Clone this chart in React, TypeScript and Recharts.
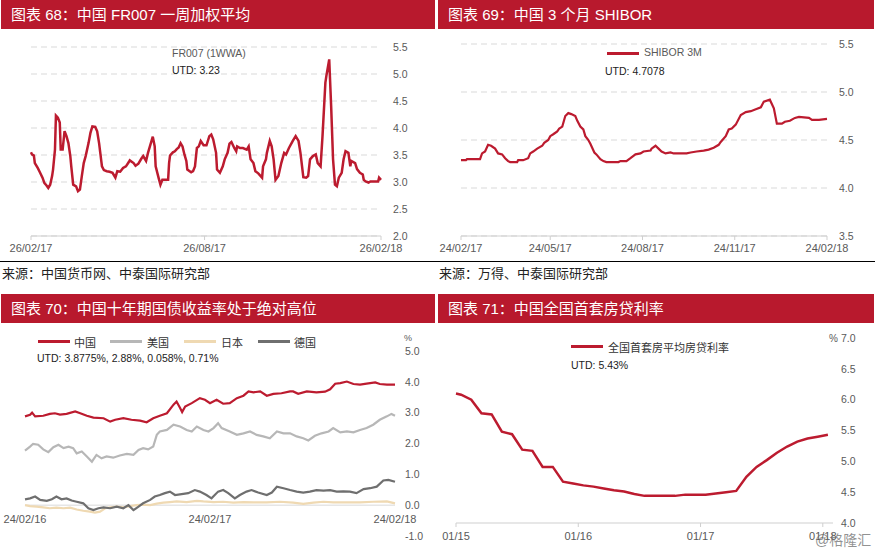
import React from 'react'
import { LineChart, Line, XAxis, YAxis, CartesianGrid, ReferenceLine } from 'recharts'

// colours
const RED = '#BC1B2F'
const HEADER_RED = '#B8192D'
const GRID = '#D9D9D9'
const AXIS_TEXT = '#595959'
const US_GRAY = '#B7B7B7'
const DE_GRAY = '#6F6F6F'
const JP_BEIGE = '#EFD9B2'
const FONT = '"Liberation Sans", Arial, "Noto Sans CJK SC", sans-serif'

// chart 68: FR007, days since 26/02/17
const fr007Days = [0, 1, 3, 4, 7, 9, 12, 14, 16, 18, 20, 22, 23, 25, 26, 28, 30, 31, 33, 35, 37, 39, 41, 42, 44, 47, 49, 51, 53, 55, 57, 60, 62, 64, 67, 69, 71, 74, 76, 79, 82, 85, 88, 90, 93, 96, 99, 102, 103, 107, 109, 112, 115, 117, 120, 122, 125, 127, 129, 130, 133, 135, 137, 141, 143, 144, 145, 148, 150, 152, 154, 156, 158, 160, 162, 163, 167, 169, 171, 173, 175, 177, 180, 183, 186, 188, 190, 193, 194, 197, 200, 202, 205, 207, 209, 212, 214, 215, 218, 221, 225, 227, 229, 232, 234, 237, 241, 242, 245, 246, 249, 251, 253, 255, 258, 261, 264, 266, 269, 273, 276, 279, 281, 284, 287, 289, 291, 294, 297, 299, 302, 304, 307, 308, 311, 313, 315, 317, 319, 321, 324, 326, 328, 331, 333, 334, 338, 340, 343, 346, 347, 349, 352, 354, 359, 362, 363, 365]
const fr007Values = [3.55, 3.51, 3.49, 3.35, 3.26, 3.19, 3.08, 2.98, 2.94, 2.89, 2.95, 3.11, 3.23, 3.6, 4.23, 4.19, 4.1, 3.6, 3.6, 3.94, 3.85, 3.72, 3.48, 3.29, 2.95, 2.92, 2.83, 2.86, 3.11, 3.35, 3.48, 3.72, 3.91, 4.03, 4.02, 3.94, 3.72, 3.29, 3.22, 3.2, 3.19, 3.17, 3.08, 3.2, 3.19, 3.26, 3.29, 3.37, 3.4, 3.35, 3.3, 3.34, 3.43, 3.48, 3.39, 3.54, 3.72, 3.84, 3.66, 3.29, 3.08, 2.95, 3.04, 3.04, 3.04, 3.35, 3.49, 3.55, 3.57, 3.61, 3.64, 3.72, 3.66, 3.51, 3.39, 3.23, 3.18, 3.2, 3.29, 3.63, 3.66, 3.76, 3.68, 3.68, 3.85, 3.88, 3.79, 3.54, 3.23, 3.17, 3.29, 3.42, 3.54, 3.71, 3.74, 3.63, 3.57, 3.66, 3.63, 3.63, 3.6, 3.66, 3.42, 3.35, 3.2, 3.16, 3.08, 3.29, 3.42, 3.54, 3.76, 3.66, 3.42, 3.04, 3.11, 3.35, 3.54, 3.51, 3.63, 3.76, 3.85, 3.76, 3.54, 3.09, 3.08, 3.11, 3.42, 3.48, 3.51, 3.35, 3.29, 3.85, 4.84, 4.96, 5.27, 4.41, 3.42, 2.95, 2.92, 3.08, 3.17, 3.42, 3.57, 3.54, 3.29, 3.39, 3.35, 3.24, 3.17, 3.14, 3.04, 3.01, 2.99, 3.01, 3.01, 3.01, 3.08, 3.04]
const fr007Ticks = [0, 181, 365]
const fr007TickLabels = ['26/02/17', '26/08/17', '26/02/18']
const fr007YTicks = [2, 2.5, 3, 3.5, 4, 4.5, 5, 5.5]

// chart 69: SHIBOR 3M, days since 24/02/17
const shiborDays = [0, 5, 6, 19, 21, 24, 27, 30, 34, 37, 41, 44, 47, 49, 56, 57, 62, 67, 69, 72, 76, 81, 83, 87, 89, 92, 96, 98, 101, 104, 107, 110, 114, 116, 119, 122, 124, 127, 129, 133, 135, 139, 142, 145, 157, 159, 165, 169, 174, 179, 182, 189, 190, 194, 197, 200, 204, 209, 212, 219, 225, 229, 235, 242, 247, 252, 257, 259, 264, 267, 270, 274, 279, 284, 289, 294, 299, 302, 308, 312, 315, 320, 323, 328, 333, 337, 347, 350, 357, 365]
const shiborValues = [4.29, 4.29, 4.3, 4.3, 4.36, 4.38, 4.45, 4.44, 4.41, 4.36, 4.35, 4.31, 4.28, 4.27, 4.27, 4.29, 4.29, 4.31, 4.36, 4.38, 4.41, 4.44, 4.47, 4.5, 4.54, 4.56, 4.59, 4.62, 4.64, 4.75, 4.78, 4.77, 4.75, 4.7, 4.64, 4.61, 4.54, 4.5, 4.46, 4.37, 4.35, 4.3, 4.28, 4.27, 4.27, 4.28, 4.28, 4.31, 4.35, 4.36, 4.38, 4.39, 4.41, 4.44, 4.41, 4.38, 4.36, 4.37, 4.36, 4.36, 4.36, 4.37, 4.38, 4.39, 4.4, 4.42, 4.45, 4.48, 4.54, 4.61, 4.62, 4.66, 4.76, 4.79, 4.8, 4.82, 4.84, 4.9, 4.92, 4.83, 4.67, 4.67, 4.69, 4.7, 4.73, 4.74, 4.73, 4.71, 4.71, 4.72]
const shiborTicks = [0, 89, 181, 273, 365]
const shiborTickLabels = ['24/02/17', '24/05/17', '24/08/17', '24/11/17', '24/02/18']
const shiborYTicks = [3.5, 4, 4.5, 5, 5.5]

// chart 70: 10y government bond yields, days since 24/02/16
const cnDays = [0, 10, 14, 20, 36, 49, 59, 69, 82, 99, 109, 122, 135, 155, 168, 178, 194, 210, 227, 240, 253, 266, 280, 293, 299, 306, 310, 316, 329, 345, 355, 365, 378, 391, 404, 418, 431, 441, 451, 464, 477, 490, 506, 523, 529, 539, 556, 575, 592, 602, 612, 622, 635, 648, 661, 674, 691, 700, 714, 730]
const cnValues = [2.88, 2.93, 3.0, 2.88, 2.9, 2.96, 2.98, 2.94, 2.96, 3.04, 2.98, 2.9, 2.84, 2.82, 2.71, 2.77, 2.82, 2.77, 2.74, 2.69, 2.82, 2.9, 2.98, 3.26, 3.36, 3.15, 3.02, 3.2, 3.31, 3.47, 3.42, 3.31, 3.42, 3.29, 3.31, 3.47, 3.55, 3.69, 3.66, 3.69, 3.55, 3.61, 3.63, 3.69, 3.69, 3.61, 3.69, 3.66, 3.68, 3.76, 3.94, 3.96, 4.01, 3.93, 3.91, 3.94, 3.98, 3.93, 3.91, 3.91]
const usDays = [0, 10, 16, 26, 36, 46, 56, 66, 76, 86, 95, 102, 112, 122, 132, 141, 151, 161, 174, 187, 201, 214, 224, 233, 243, 253, 260, 266, 280, 293, 306, 319, 329, 339, 352, 362, 372, 381, 388, 404, 418, 431, 444, 457, 470, 483, 497, 510, 523, 536, 549, 559, 572, 585, 599, 608, 622, 635, 648, 661, 674, 687, 700, 714, 723, 730]
const usValues = [1.77, 1.9, 1.99, 1.96, 1.81, 1.72, 1.88, 1.96, 1.85, 1.9, 1.85, 1.68, 1.74, 1.58, 1.41, 1.63, 1.52, 1.58, 1.54, 1.61, 1.66, 1.63, 1.79, 1.85, 1.81, 1.9, 2.28, 2.39, 2.44, 2.61, 2.55, 2.44, 2.39, 2.55, 2.44, 2.39, 2.5, 2.66, 2.5, 2.39, 2.28, 2.33, 2.39, 2.28, 2.23, 2.17, 2.39, 2.33, 2.33, 2.23, 2.17, 2.1, 2.25, 2.33, 2.39, 2.5, 2.36, 2.39, 2.36, 2.44, 2.5, 2.61, 2.77, 2.88, 2.96, 2.9]
const jpDays = [0, 10, 23, 36, 49, 62, 76, 89, 102, 115, 128, 138, 148, 158, 168, 181, 194, 207, 220, 233, 247, 260, 273, 286, 299, 319, 339, 352, 372, 391, 411, 431, 451, 477, 503, 529, 549, 569, 589, 608, 635, 661, 687, 714, 730]
const jpValues = [0.0, -0.03, -0.05, -0.07, -0.1, -0.08, -0.1, -0.08, -0.14, -0.18, -0.21, -0.24, -0.21, -0.1, -0.07, -0.05, -0.07, -0.03, 0.0, 0.02, 0.0, 0.05, 0.08, 0.1, 0.12, 0.1, 0.14, 0.12, 0.1, 0.11, 0.08, 0.1, 0.09, 0.09, 0.11, 0.08, 0.04, 0.08, 0.11, 0.09, 0.09, 0.09, 0.11, 0.12, 0.06]
const deDays = [0, 10, 20, 30, 43, 53, 62, 72, 82, 92, 102, 115, 125, 135, 145, 155, 168, 181, 194, 204, 214, 224, 233, 247, 256, 266, 276, 286, 296, 309, 322, 335, 345, 358, 368, 381, 391, 401, 414, 424, 437, 447, 460, 477, 487, 497, 510, 523, 536, 549, 562, 575, 589, 602, 615, 628, 641, 654, 668, 681, 694, 707, 717, 730]
const deValues = [0.19, 0.22, 0.28, 0.17, 0.14, 0.19, 0.28, 0.19, 0.22, 0.15, 0.11, 0.06, -0.1, -0.16, -0.1, -0.07, -0.1, -0.05, -0.1, 0.0, -0.16, -0.05, 0.06, 0.17, 0.28, 0.33, 0.39, 0.44, 0.33, 0.36, 0.39, 0.49, 0.44, 0.33, 0.22, 0.44, 0.49, 0.39, 0.22, 0.33, 0.44, 0.49, 0.41, 0.33, 0.41, 0.6, 0.55, 0.49, 0.44, 0.41, 0.44, 0.49, 0.47, 0.49, 0.44, 0.45, 0.44, 0.39, 0.52, 0.55, 0.6, 0.8, 0.82, 0.76]
const bondTicks = [0, 365, 730]
const bondTickLabels = ['24/02/16', '24/02/17', '24/02/18']
const bondYTicks = [-1, 0, 1, 2, 3, 4, 5]

// chart 71: first-home mortgage rate, months since 01/15
const mortMonths = [0, 0.5, 1.5, 2.5, 3.5, 4.5, 5.5, 6.5, 7.5, 8.5, 9.5, 10.5, 11.5, 12.5, 13.5, 14.5, 15.5, 16.5, 17.5, 18.5, 19.5, 20.5, 21.5, 22.5, 23.5, 24.5, 25.5, 26.5, 27.5, 28.5, 29.5, 30.5, 31.5, 32.5, 33.5, 34.5, 35.5, 36.5]
const mortValues = [6.1, 6.08, 6.0, 5.78, 5.76, 5.48, 5.44, 5.19, 5.17, 4.91, 4.91, 4.67, 4.64, 4.61, 4.59, 4.56, 4.53, 4.51, 4.47, 4.44, 4.44, 4.44, 4.44, 4.46, 4.46, 4.46, 4.48, 4.5, 4.52, 4.75, 4.91, 5.02, 5.14, 5.24, 5.32, 5.37, 5.4, 5.43]
const mortTicks = [0, 12, 24, 36]
const mortTickLabels = ['01/15', '01/16', '01/17', '01/18']
const mortYTicks = [4, 4.5, 5, 5.5, 6, 6.5, 7]

const pairs = (xs: number[], ys: number[]) => xs.map((d, i) => ({ d, v: ys[i] }))
const labelOf = (ticks: number[], labels: string[]) => (v: number) => labels[ticks.indexOf(v)] ?? ''
const one = (v: number) => v.toFixed(1)

const abs = (left: number, top: number, extra: React.CSSProperties = {}): React.CSSProperties => ({
  position: 'absolute', left, top, whiteSpace: 'nowrap', fontFamily: FONT, ...extra,
})

function Header({ left, top, width, text }: { left: number; top: number; width: number; text: string }) {
  return (
    <div style={abs(left, top, { width, height: 29, background: HEADER_RED, color: '#fff', fontSize: 15, lineHeight: '30px', paddingLeft: 10, boxSizing: 'border-box' })}>
      {text}
    </div>
  )
}

function LegendLine({ left, top, color }: { left: number; top: number; color: string }) {
  return <div style={abs(left, top, { width: 32, height: 3, background: color })} />
}

const axisTick = { fill: AXIS_TEXT, fontSize: 11, fontFamily: FONT }

// bond chart's dates sit just under the zero line, inside the plot
function LiftedTick(props: any) {
  const { x, y, payload } = props
  return (
    <text x={x} y={y - 13} textAnchor="middle" fill={AXIS_TEXT} fontSize={11} fontFamily={FONT}>
      {labelOf(bondTicks, bondTickLabels)(payload.value)}
    </text>
  )
}

export default function App() {
  return (
    <div style={{ position: 'absolute', left: 0, top: 0, width: 875, height: 551, background: '#fff', overflow: 'hidden', fontFamily: FONT }}>
      {/* chart 68 */}
      <Header left={1} top={0} width={434} text="图表 68：中国 FR007 一周加权平均" />
      <div style={abs(0, 30)}>
        <LineChart width={437} height={230} margin={{ top: 17, left: 31, right: 16, bottom: 4 }}>
          <CartesianGrid vertical={false} stroke={GRID} strokeDasharray="6 4" />
          <XAxis type="number" dataKey="d" domain={[0, 365]} ticks={fr007Ticks} tickFormatter={labelOf(fr007Ticks, fr007TickLabels)}
            height={20} stroke="#CFCFCF" tickSize={4} tickMargin={4} tick={axisTick} interval={0} />
          <YAxis orientation="right" domain={[2, 5.5]} ticks={fr007YTicks} tickFormatter={one} width={40}
            axisLine={false} tickLine={false} tickMargin={6} tick={{ ...axisTick, fontSize: 10.5 }} />
          <Line data={pairs(fr007Days, fr007Values)} dataKey="v" stroke={RED} strokeWidth={2.5} dot={false} isAnimationActive={false} />
        </LineChart>
      </div>
      <div style={abs(172, 47, { fontSize: 10.5, color: AXIS_TEXT })}>FR007 (1WWA)</div>
      <div style={abs(172, 64, { fontSize: 10.5, color: '#222' })}>UTD: 3.23</div>
      <div style={abs(0, 261, { width: 437, height: 1, background: '#000' })} />
      <div style={abs(2, 263, { fontSize: 13, color: '#222' })}>来源：中国货币网、中泰国际研究部</div>

      {/* chart 69 */}
      <Header left={438} top={0} width={436} text="图表 69：中国 3 个月 SHIBOR" />
      <div style={abs(437, 30)}>
        <LineChart width={438} height={230} margin={{ top: 14, left: 24, right: 8, bottom: 4 }}>
          <CartesianGrid vertical={false} stroke={GRID} strokeDasharray="6 4" />
          <XAxis type="number" dataKey="d" domain={[0, 365]} ticks={shiborTicks} tickFormatter={labelOf(shiborTicks, shiborTickLabels)}
            height={20} stroke="#CFCFCF" tickSize={4} tickMargin={4} tick={axisTick} interval={0} />
          <YAxis orientation="right" domain={[3.5, 5.5]} ticks={shiborYTicks} tickFormatter={one} width={40}
            axisLine={false} tickLine={false} tickMargin={6} tick={{ ...axisTick, fontSize: 10.5 }} />
          <Line data={pairs(shiborDays, shiborValues)} dataKey="v" stroke={RED} strokeWidth={2.2} dot={false} isAnimationActive={false} />
        </LineChart>
      </div>
      <LegendLine left={607} top={52} color={RED} />
      <div style={abs(644, 46, { fontSize: 10.5, color: AXIS_TEXT })}>SHIBOR 3M</div>
      <div style={abs(605, 65, { fontSize: 10.5, color: '#222' })}>UTD: 4.7078</div>
      <div style={abs(437, 261, { width: 438, height: 1, background: '#000' })} />
      <div style={abs(439, 263, { fontSize: 13, color: '#222' })}>来源：万得、中泰国际研究部</div>

      {/* chart 70 */}
      <Header left={1} top={294} width={434} text="图表 70：中国十年期国债收益率处于绝对高位" />
      <div style={abs(0, 325)}>
        <LineChart width={437} height={226} margin={{ top: 26, left: 25, right: 8, bottom: 0 }}>
          <XAxis type="number" dataKey="d" domain={[0, 730]} ticks={bondTicks} height={15}
            axisLine={false} tickLine={false} tickSize={0} tickMargin={0} tick={<LiftedTick />} interval={0} />
          <YAxis orientation="right" domain={[-1, 5]} ticks={bondYTicks} tickFormatter={one} width={34}
            axisLine={false} tickLine={false} tickMargin={4} tick={{ ...axisTick, fontSize: 10.5 }} />
          <ReferenceLine y={0} stroke={GRID} strokeWidth={1} />
          <Line data={pairs(jpDays, jpValues)} dataKey="v" stroke={JP_BEIGE} strokeWidth={2.2} dot={false} isAnimationActive={false} />
          <Line data={pairs(deDays, deValues)} dataKey="v" stroke={DE_GRAY} strokeWidth={2.2} dot={false} isAnimationActive={false} />
          <Line data={pairs(usDays, usValues)} dataKey="v" stroke={US_GRAY} strokeWidth={2.2} dot={false} isAnimationActive={false} />
          <Line data={pairs(cnDays, cnValues)} dataKey="v" stroke={RED} strokeWidth={2.2} dot={false} isAnimationActive={false} />
        </LineChart>
      </div>
      <LegendLine left={38} top={340} color={RED} />
      <div style={abs(74, 334, { fontSize: 11, color: '#333' })}>中国</div>
      <LegendLine left={110} top={340} color={US_GRAY} />
      <div style={abs(147, 334, { fontSize: 11, color: '#333' })}>美国</div>
      <LegendLine left={184} top={340} color={JP_BEIGE} />
      <div style={abs(221, 334, { fontSize: 11, color: '#333' })}>日本</div>
      <LegendLine left={258} top={340} color={DE_GRAY} />
      <div style={abs(294, 334, { fontSize: 11, color: '#333' })}>德国</div>
      <div style={abs(37, 352, { fontSize: 10.5, color: '#222' })}>UTD: 3.8775%, 2.88%, 0.058%, 0.71%</div>
      <div style={abs(404, 333, { fontSize: 9, lineHeight: '10px', color: AXIS_TEXT })}>%</div>

      {/* chart 71 */}
      <Header left={438} top={294} width={436} text="图表 71：中国全国首套房贷利率" />
      <div style={abs(437, 325)}>
        <LineChart width={438} height={226} margin={{ top: 13, left: 19, right: 8, bottom: 4 }}>
          <XAxis type="number" dataKey="d" domain={[0, 37]} ticks={mortTicks} tickFormatter={labelOf(mortTicks, mortTickLabels)}
            height={24} stroke="#CFCFCF" tickSize={4} tickMargin={5} tick={axisTick} interval={0} />
          <YAxis orientation="right" domain={[4, 7]} ticks={mortYTicks} tickFormatter={one} width={34}
            axisLine={false} tickLine={false} tickMargin={2} tick={{ ...axisTick, fontSize: 10.5 }} />
          <Line data={pairs(mortMonths, mortValues)} dataKey="v" stroke={RED} strokeWidth={2.5} dot={false} isAnimationActive={false} />
        </LineChart>
      </div>
      <LegendLine left={571} top={345} color={RED} />
      <div style={abs(608, 339, { fontSize: 11, color: '#333' })}>全国首套房平均房贷利率</div>
      <div style={abs(571, 359, { fontSize: 10.5, color: '#222' })}>UTD: 5.43%</div>
      <div style={abs(829, 333, { fontSize: 10, color: AXIS_TEXT })}>%</div>
      <div style={abs(815, 529, { fontSize: 14, color: 'rgba(110,110,110,0.75)' })}>@格隆汇</div>
    </div>
  )
}
